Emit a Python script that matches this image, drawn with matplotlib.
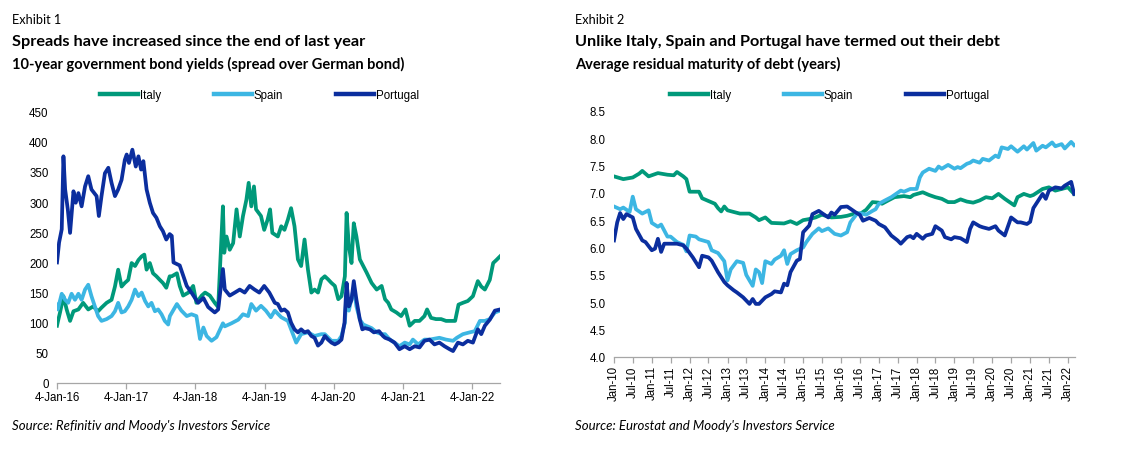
import pandas as pd
import matplotlib
matplotlib.use("Agg")
import matplotlib.pyplot as plt
from matplotlib.lines import Line2D

# ---------------- Exhibit 1 data: spread over German bund (bp) ----------------
italy_dates = ["2016-01-04", "2016-01-08", "2016-01-20", "2016-02-07", "2016-02-24", "2016-03-13", "2016-03-31",
               "2016-04-26", "2016-05-21", "2016-06-17", "2016-07-13", "2016-08-08", "2016-08-26", "2016-09-22",
               "2016-10-18", "2016-11-05", "2016-11-22", "2016-12-10", "2016-12-27", "2017-01-14", "2017-02-01",
               "2017-02-19", "2017-03-09", "2017-03-26", "2017-04-09", "2017-04-21", "2017-05-08", "2017-05-25",
               "2017-06-12", "2017-06-30", "2017-07-16", "2017-08-03", "2017-08-21", "2017-09-01", "2017-09-28",
               "2017-10-13", "2017-10-31", "2017-11-28", "2017-12-23", "2018-01-09", "2018-02-06", "2018-02-24",
               "2018-03-21", "2018-04-16", "2018-05-04", "2018-05-29", "2018-06-05", "2018-06-17", "2018-07-04",
               "2018-07-22", "2018-08-09", "2018-08-26", "2018-09-12", "2018-09-30", "2018-10-12", "2018-10-26",
               "2018-11-09", "2018-11-20", "2018-12-16", "2019-01-02", "2019-01-20", "2019-02-02", "2019-02-14",
               "2019-03-15", "2019-04-02", "2019-04-19", "2019-05-07", "2019-05-24", "2019-06-11", "2019-06-29",
               "2019-07-16", "2019-08-03", "2019-08-21", "2019-09-08", "2019-09-25", "2019-10-13", "2019-10-31",
               "2019-11-18", "2019-12-05", "2019-12-23", "2020-01-10", "2020-01-28", "2020-02-14", "2020-03-03",
               "2020-03-12", "2020-03-24", "2020-04-07", "2020-04-19", "2020-05-03", "2020-05-21", "2020-06-08",
               "2020-06-26", "2020-07-22", "2020-08-18", "2020-09-13", "2020-10-01", "2020-10-18", "2020-11-03",
               "2020-11-30", "2020-12-25", "2021-01-17", "2021-02-08", "2021-03-07", "2021-04-01", "2021-04-27",
               "2021-05-11", "2021-06-01", "2021-06-27", "2021-07-24", "2021-08-19", "2021-09-15", "2021-10-06",
               "2021-10-24", "2021-11-16", "2021-12-12", "2022-01-08", "2022-02-03", "2022-02-21", "2022-03-12",
               "2022-04-07", "2022-04-25", "2022-05-12", "2022-05-31"]
italy_spread = [95, 101, 117, 144, 122, 103, 119,
                122, 133, 122, 127, 119, 125, 133,
                138, 160, 188, 160, 166, 171, 199,
                194, 204, 210, 213, 188, 199, 182,
                177, 171, 166, 158, 177, 177, 182,
                161, 145, 150, 161, 133, 145, 150,
                145, 133, 126, 293, 216, 243, 221,
                232, 288, 243, 277, 304, 332, 293,
                326, 288, 277, 254, 271, 288, 249,
                243, 260, 254, 271, 290, 260, 205,
                194, 238, 188, 150, 155, 150, 172,
                177, 172, 166, 161, 139, 144, 177,
                282, 227, 199, 265, 243, 205, 194,
                183, 166, 155, 161, 139, 133, 122,
                117, 111, 122, 95, 103, 103, 111,
                122, 108, 106, 106, 103, 103, 103,
                130, 133, 136, 144, 169, 160, 155,
                171, 199, 204, 210]

spain_dates = ["2016-01-04", "2016-01-08", "2016-01-29", "2016-02-16", "2016-03-03", "2016-03-21", "2016-04-08",
               "2016-04-26", "2016-05-13", "2016-05-31", "2016-06-17", "2016-07-04", "2016-07-22", "2016-08-08",
               "2016-08-26", "2016-09-22", "2016-10-18", "2016-11-05", "2016-11-22", "2016-12-10", "2016-12-27",
               "2017-01-14", "2017-02-01", "2017-02-19", "2017-03-09", "2017-03-26", "2017-04-13", "2017-04-30",
               "2017-05-17", "2017-06-04", "2017-06-21", "2017-07-09", "2017-07-26", "2017-08-13", "2017-08-22",
               "2017-09-28", "2017-10-22", "2017-11-19", "2017-12-14", "2018-01-09", "2018-01-28", "2018-02-15",
               "2018-03-04", "2018-03-30", "2018-04-25", "2018-05-29", "2018-06-08", "2018-07-13", "2018-08-18",
               "2018-09-12", "2018-10-09", "2018-10-26", "2018-11-20", "2018-12-16", "2019-01-11", "2019-02-06",
               "2019-02-27", "2019-04-02", "2019-05-07", "2019-05-24", "2019-06-20", "2019-07-16", "2019-08-21",
               "2019-09-25", "2019-10-31", "2019-11-18", "2019-12-23", "2020-01-28", "2020-02-14", "2020-03-03",
               "2020-03-12", "2020-03-24", "2020-04-19", "2020-05-03", "2020-05-21", "2020-06-08", "2020-07-22",
               "2020-08-18", "2020-09-13", "2020-10-01", "2020-10-26", "2020-11-20", "2020-12-16", "2021-01-13",
               "2021-02-08", "2021-02-25", "2021-03-25", "2021-04-27", "2021-05-24", "2021-07-15", "2021-08-19",
               "2021-09-25", "2021-10-15", "2021-11-16", "2021-12-22", "2022-01-18", "2022-02-14", "2022-03-12",
               "2022-04-07", "2022-05-04", "2022-05-31"]
spain_spread = [130, 122, 148, 138, 133, 148, 138,
                148, 138, 155, 163, 144, 127, 111,
                103, 106, 111, 119, 133, 117, 119,
                127, 138, 155, 144, 150, 136, 127,
                133, 119, 122, 114, 103, 97, 111,
                131, 120, 111, 114, 111, 73, 92,
                78, 70, 76, 99, 94, 99, 105,
                114, 111, 131, 120, 128, 120, 109,
                120, 109, 103, 89, 67, 81, 84,
                78, 81, 81, 70, 70, 78, 100,
                150, 120, 158, 127, 105, 97, 91,
                84, 81, 81, 72, 67, 61, 67,
                64, 72, 64, 72, 72, 75, 72,
                70, 75, 81, 84, 86, 103, 103,
                106, 117, 120]

portugal_dates = ["2016-01-04", "2016-01-15", "2016-01-29", "2016-02-07", "2016-02-16", "2016-03-01", "2016-03-13",
                  "2016-03-31", "2016-04-12", "2016-04-26", "2016-05-13", "2016-05-31", "2016-06-17", "2016-07-04",
                  "2016-07-31", "2016-08-12", "2016-08-26", "2016-09-13", "2016-10-01", "2016-10-18", "2016-11-05",
                  "2016-11-22", "2016-12-10", "2016-12-27", "2017-01-06", "2017-01-18", "2017-02-05", "2017-02-23",
                  "2017-03-09", "2017-03-23", "2017-04-04", "2017-04-21", "2017-05-08", "2017-05-25", "2017-06-12",
                  "2017-06-30", "2017-07-16", "2017-08-03", "2017-08-21", "2017-09-01", "2017-09-10", "2017-10-13",
                  "2017-11-19", "2017-12-14", "2018-01-18", "2018-02-15", "2018-03-12", "2018-04-16", "2018-05-04",
                  "2018-05-29", "2018-06-08", "2018-07-04", "2018-07-31", "2018-08-26", "2018-09-21", "2018-10-17",
                  "2018-11-12", "2018-12-07", "2019-01-02", "2019-01-29", "2019-02-27", "2019-03-15", "2019-04-02",
                  "2019-04-19", "2019-05-07", "2019-05-24", "2019-06-11", "2019-06-29", "2019-07-16", "2019-08-03",
                  "2019-08-21", "2019-09-08", "2019-09-25", "2019-10-13", "2019-10-31", "2019-11-18", "2019-12-05",
                  "2019-12-23", "2020-01-10", "2020-01-28", "2020-02-14", "2020-03-01", "2020-03-12", "2020-03-24",
                  "2020-04-07", "2020-04-19", "2020-05-03", "2020-05-21", "2020-06-03", "2020-06-17", "2020-07-13",
                  "2020-08-03", "2020-08-30", "2020-09-20", "2020-10-01", "2020-10-26", "2020-11-20", "2020-12-16",
                  "2021-01-13", "2021-02-08", "2021-03-07", "2021-04-01", "2021-04-27", "2021-05-24", "2021-06-19",
                  "2021-07-15", "2021-08-11", "2021-09-07", "2021-09-25", "2021-10-21", "2021-11-16", "2021-12-12",
                  "2022-01-08", "2022-02-03", "2022-02-21", "2022-03-12", "2022-04-07", "2022-05-04", "2022-05-31"]
portugal_spread = [200, 233, 255, 376, 321, 288, 249,
                   318, 299, 315, 293, 326, 343, 321,
                   310, 277, 310, 348, 357, 332, 310,
                   321, 337, 370, 379, 365, 387, 359,
                   376, 354, 368, 321, 299, 282, 274,
                   260, 252, 238, 247, 244, 200, 195,
                   161, 150, 133, 141, 126, 117, 122,
                   189, 155, 145, 150, 155, 150, 161,
                   155, 150, 161, 150, 133, 131, 120,
                   122, 117, 100, 89, 84, 89, 84,
                   86, 78, 75, 62, 67, 78, 72,
                   67, 64, 67, 72, 100, 166, 127,
                   138, 169, 138, 105, 89, 91, 89,
                   84, 86, 78, 75, 72, 67, 56,
                   61, 56, 61, 59, 70, 72, 64,
                   67, 61, 56, 53, 67, 64, 70,
                   67, 89, 81, 95, 105, 120, 122]

spread_ticks = ["2016-01-04", "2017-01-04", "2018-01-04", "2019-01-04", "2020-01-04", "2021-01-04", "2022-01-04"]
spread_tick_labels = ["4-Jan-16", "4-Jan-17", "4-Jan-18", "4-Jan-19", "4-Jan-20", "4-Jan-21", "4-Jan-22"]

# ---------------- Exhibit 2 data: average residual maturity (years) ----------------
italy_months = ["2010-01", "2010-04", "2010-07", "2010-09", "2010-10", "2010-12", "2011-03", "2011-06", "2011-08",
                "2011-09", "2011-11", "2011-12", "2012-01", "2012-04", "2012-05", "2012-07", "2012-09", "2012-10",
                "2012-11", "2012-12", "2013-01", "2013-03", "2013-05", "2013-08", "2013-10", "2013-11", "2014-01",
                "2014-03", "2014-07", "2014-09", "2014-11", "2015-01", "2015-03", "2015-05", "2015-07", "2015-10",
                "2016-01", "2016-03", "2016-06", "2016-07", "2016-09", "2016-11", "2017-01", "2017-02", "2017-04",
                "2017-06", "2017-09", "2017-11", "2017-12", "2018-03", "2018-05", "2018-07", "2018-09", "2018-11",
                "2019-01", "2019-03", "2019-05", "2019-07", "2019-09", "2019-11", "2020-01", "2020-03", "2020-05",
                "2020-08", "2020-09", "2020-11", "2021-01", "2021-02", "2021-05", "2021-07", "2021-09", "2021-11",
                "2022-01", "2022-03"]
italy_maturity = [7.30, 7.25, 7.28, 7.35, 7.40, 7.30, 7.36, 7.33, 7.32,
                  7.38, 7.30, 7.25, 7.02, 7.02, 6.90, 6.85, 6.80, 6.72,
                  6.66, 6.75, 6.68, 6.65, 6.62, 6.62, 6.55, 6.50, 6.55,
                  6.45, 6.44, 6.48, 6.43, 6.50, 6.52, 6.55, 6.60, 6.55,
                  6.56, 6.58, 6.63, 6.61, 6.69, 6.83, 6.82, 6.80, 6.86,
                  6.92, 6.94, 6.92, 6.96, 7.01, 6.96, 6.92, 6.89, 6.83,
                  6.83, 6.88, 6.84, 6.82, 6.86, 6.92, 6.90, 6.98, 6.89,
                  6.77, 6.92, 6.98, 6.94, 6.96, 7.07, 7.10, 7.04, 7.07,
                  7.10, 6.98]

spain_months = ["2010-01", "2010-03", "2010-04", "2010-06", "2010-07", "2010-08", "2010-10", "2010-12", "2011-01",
                "2011-03", "2011-04", "2011-06", "2011-07", "2011-09", "2011-11", "2011-12", "2012-01", "2012-03",
                "2012-04", "2012-07", "2012-08", "2012-10", "2012-12", "2013-01", "2013-02", "2013-04", "2013-06",
                "2013-07", "2013-09", "2013-10", "2013-11", "2013-12", "2014-01", "2014-03", "2014-04", "2014-06",
                "2014-07", "2014-08", "2014-09", "2014-11", "2015-01", "2015-02", "2015-04", "2015-06", "2015-07",
                "2015-09", "2015-11", "2016-01", "2016-03", "2016-04", "2016-06", "2016-07", "2016-09", "2016-11",
                "2016-12", "2017-01", "2017-03", "2017-05", "2017-08", "2017-09", "2017-11", "2018-01", "2018-02",
                "2018-03", "2018-05", "2018-07", "2018-08", "2018-09", "2018-11", "2019-01", "2019-02", "2019-03",
                "2019-05", "2019-06", "2019-07", "2019-09", "2019-10", "2019-12", "2020-02", "2020-03", "2020-04",
                "2020-06", "2020-07", "2020-09", "2020-11", "2020-12", "2021-02", "2021-03", "2021-05", "2021-06",
                "2021-08", "2021-09", "2021-11", "2021-12", "2022-02", "2022-03"]
spain_maturity = [6.75, 6.70, 6.73, 6.65, 6.93, 6.70, 6.62, 6.68, 6.45,
                  6.38, 6.42, 6.20, 6.20, 6.10, 6.05, 5.93, 6.22, 6.20,
                  6.15, 6.10, 5.95, 5.90, 5.75, 5.40, 5.60, 5.75, 5.72,
                  5.50, 5.30, 5.60, 5.55, 5.35, 5.75, 5.70, 5.78, 5.85,
                  5.95, 5.70, 5.88, 5.95, 6.00, 6.10, 6.25, 6.35, 6.30,
                  6.35, 6.25, 6.22, 6.28, 6.46, 6.61, 6.63, 6.60, 6.67,
                  6.70, 6.80, 6.86, 6.92, 7.04, 7.02, 7.07, 7.07, 7.28,
                  7.37, 7.44, 7.40, 7.48, 7.44, 7.51, 7.44, 7.47, 7.45,
                  7.53, 7.55, 7.59, 7.55, 7.62, 7.59, 7.68, 7.65, 7.83,
                  7.80, 7.85, 7.75, 7.85, 7.79, 7.91, 7.77, 7.86, 7.83,
                  7.92, 7.85, 7.89, 7.81, 7.93, 7.87]

portugal_months = ["2010-01", "2010-02", "2010-03", "2010-04", "2010-05", "2010-06", "2010-07", "2010-08", "2010-10",
                   "2010-11", "2011-01", "2011-02", "2011-03", "2011-04", "2011-05", "2011-07", "2011-09", "2011-11",
                   "2011-12", "2012-02", "2012-04", "2012-05", "2012-07", "2012-08", "2012-10", "2012-12", "2013-01",
                   "2013-03", "2013-04", "2013-06", "2013-08", "2013-09", "2013-10", "2013-11", "2014-01", "2014-03",
                   "2014-04", "2014-06", "2014-07", "2014-08", "2014-09", "2014-11", "2014-12", "2015-01", "2015-03",
                   "2015-04", "2015-06", "2015-07", "2015-09", "2015-10", "2015-11", "2016-01", "2016-03", "2016-04",
                   "2016-06", "2016-07", "2016-08", "2016-10", "2016-12", "2017-01", "2017-03", "2017-05", "2017-07",
                   "2017-08", "2017-10", "2017-11", "2017-12", "2018-01", "2018-03", "2018-04", "2018-06", "2018-07",
                   "2018-09", "2018-10", "2018-12", "2019-01", "2019-03", "2019-05", "2019-06", "2019-07", "2019-09",
                   "2019-10", "2019-12", "2020-02", "2020-03", "2020-05", "2020-07", "2020-09", "2020-10", "2020-12",
                   "2021-01", "2021-02", "2021-05", "2021-06", "2021-07", "2021-09", "2021-11", "2021-12", "2022-02",
                   "2022-03"]
portugal_maturity = [6.13, 6.46, 6.63, 6.52, 6.61, 6.58, 6.55, 6.34, 6.13,
                     6.10, 5.95, 5.98, 6.16, 5.92, 6.07, 6.07, 6.07, 6.04,
                     5.98, 5.82, 5.64, 5.85, 5.82, 5.76, 5.55, 5.37, 5.31,
                     5.22, 5.18, 5.09, 4.97, 5.06, 4.97, 4.97, 5.09, 5.15,
                     5.20, 5.18, 5.34, 5.31, 5.55, 5.76, 5.79, 6.28, 6.40,
                     6.61, 6.67, 6.63, 6.55, 6.64, 6.60, 6.74, 6.75, 6.71,
                     6.63, 6.60, 6.49, 6.54, 6.49, 6.43, 6.37, 6.22, 6.13,
                     6.07, 6.19, 6.21, 6.17, 6.25, 6.16, 6.22, 6.25, 6.39,
                     6.31, 6.19, 6.15, 6.19, 6.17, 6.10, 6.34, 6.46, 6.39,
                     6.37, 6.34, 6.39, 6.31, 6.22, 6.55, 6.46, 6.46, 6.43,
                     6.47, 6.72, 6.98, 6.89, 7.04, 7.10, 7.08, 7.13, 7.20,
                     6.98]

maturity_ticks = pd.date_range("2010-01-01", "2022-01-01", freq="6MS")
maturity_tick_labels = [d.strftime("%b-%y") for d in maturity_ticks]

GREEN = "#00997a"
LIGHT = "#3cb6e3"
DARK = "#0b2e9e"
GREY = "#a6a6a6"

plt.rcParams["font.family"] = ["Liberation Sans", "DejaVu Sans"]

fig = plt.figure(figsize=(11.22, 4.52), dpi=100)

ax1 = fig.add_axes([57 / 1122, 1 - 384 / 452, (500 - 57) / 1122, (384 - 112.7) / 452])
ax2 = fig.add_axes([614 / 1122, 1 - 358 / 452, (1075 - 614) / 1122, (358 - 111.7) / 452])

lw = 2.7
ax1.plot(pd.to_datetime(italy_dates), italy_spread, color=GREEN, lw=lw, label="Italy")
ax1.plot(pd.to_datetime(spain_dates), spain_spread, color=LIGHT, lw=lw, label="Spain")
ax1.plot(pd.to_datetime(portugal_dates), portugal_spread, color=DARK, lw=lw, label="Portugal")
ax1.set_ylim(0, 450)
ax1.set_yticks(range(0, 451, 50))
ax1.set_xlim(pd.Timestamp("2016-01-04"), pd.Timestamp("2022-05-31"))
ax1.set_xticks(pd.to_datetime(spread_ticks))
ax1.set_xticklabels(spread_tick_labels)

ax2.plot(pd.to_datetime(italy_months), italy_maturity, color=GREEN, lw=lw, label="Italy")
ax2.plot(pd.to_datetime(spain_months), spain_maturity, color=LIGHT, lw=lw, label="Spain")
ax2.plot(pd.to_datetime(portugal_months), portugal_maturity, color=DARK, lw=lw, label="Portugal")
ax2.set_ylim(4.0, 8.5)
ax2.set_yticks([4.0 + 0.5 * i for i in range(10)])
ax2.set_yticklabels([f"{4.0 + 0.5 * i:.1f}" for i in range(10)])
ax2.set_xlim(pd.Timestamp("2010-01-01"), pd.Timestamp("2022-03-10"))
ax2.set_xticks(maturity_ticks)
ax2.set_xticklabels(maturity_tick_labels, rotation=90)

for ax in (ax1, ax2):
    for s in ("top", "right", "left"):
        ax.spines[s].set_visible(False)
    ax.spines["bottom"].set_color(GREY)
    ax.spines["bottom"].set_linewidth(0.9)
    ax.tick_params(axis="y", length=0, pad=6, labelsize=8.3, colors="#000000")
    ax.tick_params(axis="x", length=4, width=0.9, color=GREY, labelsize=8.3, pad=2)
    ax.set_facecolor("none")

# legends
handles = [Line2D([], [], color=c, lw=3.2) for c in (GREEN, LIGHT, DARK)]
for x0 in (100 / 1122, 670 / 1122):
    fig.legend(handles, ["Italy", "Spain", "Portugal"], loc="center left",
               bbox_to_anchor=(x0, 1 - 96 / 452), ncol=3, frameon=False,
               fontsize=8.3, handlelength=3.3, handletextpad=0.15,
               columnspacing=4.6, borderpad=0, borderaxespad=0)

# headings
head = ["Lato", "DejaVu Sans"]
fig.text(12 / 1122, 1 - 20 / 452, "Exhibit 1", fontsize=9.2, family=head, va="center")
fig.text(12 / 1122, 1 - 42 / 452, "Spreads have increased since the end of last year",
         fontsize=11.7, family=head, weight="bold", va="center")
fig.text(12 / 1122, 1 - 64 / 452, "10-year government bond yields (spread over German bond)",
         fontsize=10.5, family=head, weight="bold", va="center")
fig.text(12 / 1122, 1 - 426 / 452, "Source: Refinitiv and Moody's Investors Service",
         fontsize=9.5, family=head, style="italic", va="center")

fig.text(575 / 1122, 1 - 20 / 452, "Exhibit 2", fontsize=9.2, family=head, va="center")
fig.text(575 / 1122, 1 - 42 / 452, "Unlike Italy, Spain and Portugal have termed out their debt",
         fontsize=11.7, family=head, weight="bold", va="center")
fig.text(575 / 1122, 1 - 64 / 452, "Average residual maturity of debt (years)",
         fontsize=10.5, family=head, weight="bold", va="center")
fig.text(575 / 1122, 1 - 426 / 452, "Source: Eurostat and Moody's Investors Service",
         fontsize=9.5, family=head, style="italic", va="center")

fig.savefig("out.png", dpi=100)
